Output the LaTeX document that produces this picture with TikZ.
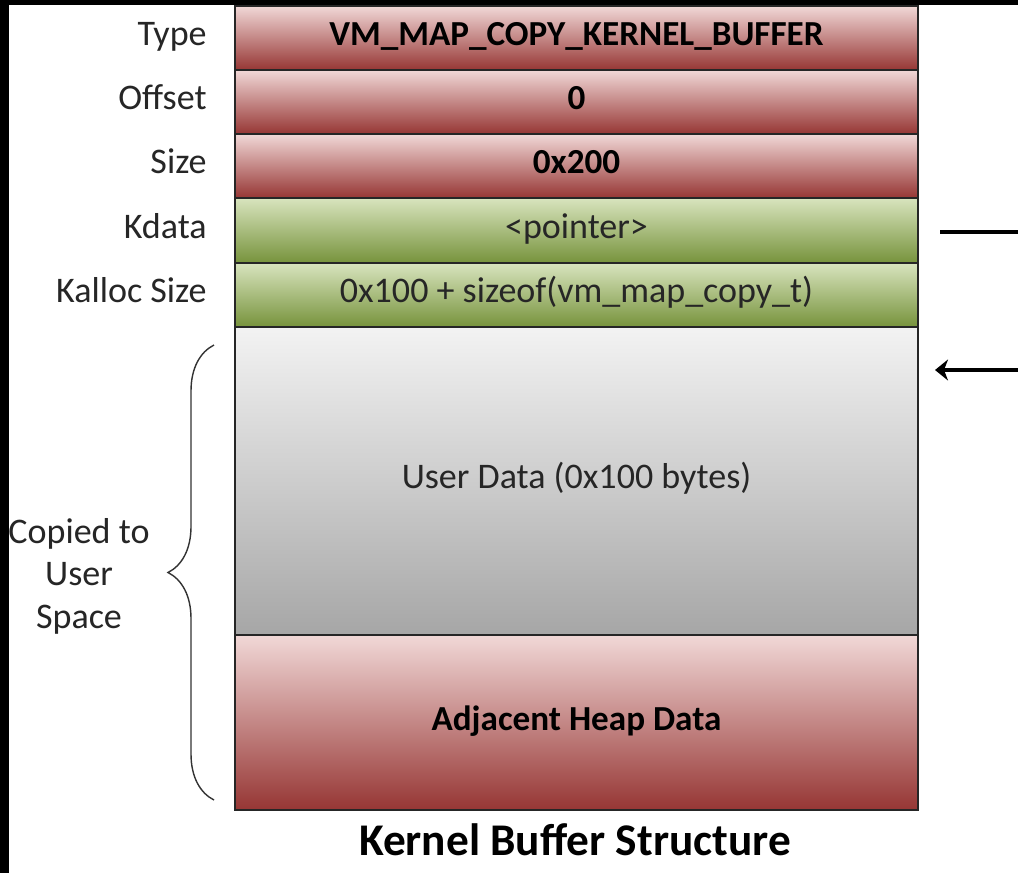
\documentclass[tikz,border=0pt]{standalone}
\usepackage{fontspec}
\setmainfont{Carlito}
\usepackage{tikz}
\usetikzlibrary{positioning,arrows.meta,decorations.pathreplacing}

\definecolor{redtop}{RGB}{241,216,215}
\definecolor{redbot}{RGB}{150,54,52}
\definecolor{greentop}{RGB}{216,228,190}
\definecolor{greenbot}{RGB}{119,147,60}
\definecolor{graytop}{RGB}{243,243,243}
\definecolor{graybot}{RGB}{166,166,166}
\definecolor{inktext}{RGB}{38,38,38}

\newcommand{\bodyfont}{\fontsize{20.5}{24.2}\selectfont}
\newcommand{\boldfont}{\fontsize{20}{24}\selectfont\bfseries}

\begin{document}
\begin{tikzpicture}[
        field/.style={draw=black!85, line width=1pt, minimum width=13.66cm, inner sep=0pt, outer sep=0pt,
            text height=9pt, text depth=0pt, font=\bodyfont, text=inktext},
        redfield/.style={field, top color=redtop, bottom color=redbot, font=\boldfont, text=black},
        greenfield/.style={field, top color=greentop, bottom color=greenbot},
        grayfield/.style={field, top color=graytop, bottom color=graybot},
        lbl/.style={inner sep=0pt, text height=9pt, text depth=0pt, font=\bodyfont, text=inktext}
    ]
            \useasboundingbox (0,0) rectangle (20.36,-17.46);
            \fill[white] (0,0) rectangle (20.36,-17.46);
            \fill[black] (0,0) rectangle (0.18,-17.46);
            \fill[black] (0,0) rectangle (20.36,-0.10);

            \node[redfield, minimum height=1.28cm] (type) at (11.53,-0.76) {VM\_MAP\_COPY\_KERNEL\_BUFFER};
            \node[lbl, left=0.56cm of type] (typelbl) {Type};

            \node[redfield, minimum height=1.28cm] (offset) at (11.53,-2.04) {0};
            \node[lbl, left=0.56cm of offset] (offsetlbl) {Offset};

            \node[redfield, minimum height=1.28cm] (size) at (11.53,-3.32) {0x200};
            \node[lbl, left=0.56cm of size] (sizelbl) {Size};

            \node[greenfield, minimum height=1.30cm] (kdata) at (11.53,-4.61) {<pointer>};
            \node[lbl, left=0.56cm of kdata] (kdatalbl) {Kdata};

            \node[greenfield, minimum height=1.28cm] (kalloc) at (11.53,-5.90) {0x100 + sizeof(vm\_map\_copy\_t)};
            \node[lbl, left=0.56cm of kalloc] (kalloclbl) {Kalloc Size};

            \node[grayfield, minimum height=6.16cm] (user) at (11.53,-9.62) {User Data (0x100 bytes)};
            \node[redfield, minimum height=3.50cm] (adjacent) at (11.53,-14.45) {Adjacent Heap Data};

            \node[font=\fontsize{25.8}{30}\selectfont\bfseries, anchor=base] (title) at (11.50,-17.10) {Kernel Buffer Structure};

            \coordinate (bracebot) at (4.28,-16.00);
            \coordinate (bracetop) at (4.28,-6.90);
            \draw[black!80, line width=0.8pt, decorate, decoration={brace, amplitude=0.92cm}] (bracebot) -- (bracetop);
            \node[lbl, align=center, text height=, text depth=] (copied) at (1.58,-11.52) {Copied to\\User\\Space};

            \coordinate (kdataend) at (20.36,-4.64);
            \draw[line width=2pt] ([xshift=0.44cm,yshift=-0.03cm]kdata.east) -- (kdataend);

            \coordinate (ptrsrc) at (20.36,-7.40);
            \coordinate (ptrdst) at (18.70,-7.40);
            \draw[line width=2pt, -{Stealth[length=0.26cm, width=0.42cm, inset=0.08cm]}] (ptrsrc) -- (ptrdst);
        \end{tikzpicture}
\end{document}
